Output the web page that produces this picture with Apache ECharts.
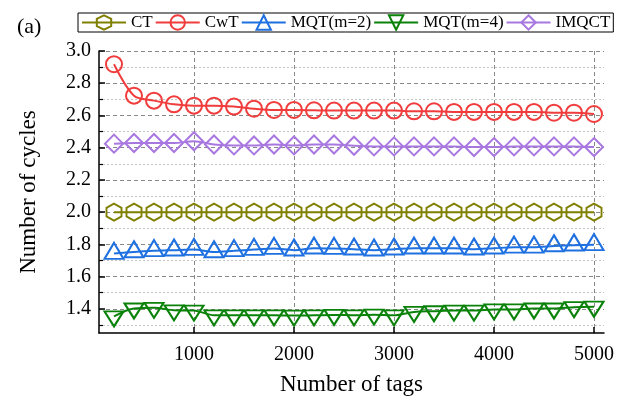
<!DOCTYPE html>
<html>
<head>
<meta charset="utf-8">
<script src="https://cdn.jsdelivr.net/npm/echarts@6/dist/echarts.min.js"></script>
<style>
    html, body { margin: 0; padding: 0; background: #fff; }
    #main { width: 617px; height: 401px; }
</style>
</head>
<body>
<div id="main"></div>
<script>
// 标签数 (x)
var tagCounts = [200, 400, 600, 800, 1000, 1200, 1400, 1600, 1800, 2000, 2200, 2400, 2600,
    2800, 3000, 3200, 3400, 3600, 3800, 4000, 4200, 4400, 4600, 4800, 5000];
var ctCycles = [2.0, 2.0, 2.0, 2.0, 2.0, 2.0, 2.0, 2.0, 2.0, 2.0, 2.0, 2.0, 2.0,
    2.0, 2.0, 2.0, 2.0, 2.0, 2.0, 2.0, 2.0, 2.0, 2.0, 2.0, 2.0];
var cwtCycles = [2.918, 2.723, 2.692, 2.669, 2.661, 2.661, 2.655, 2.642, 2.634, 2.634, 2.632, 2.630, 2.630,
    2.630, 2.630, 2.626, 2.626, 2.622, 2.622, 2.622, 2.622, 2.622, 2.617, 2.617, 2.609];
var mqt2Cycles = [1.743, 1.753, 1.760, 1.764, 1.768, 1.753, 1.760, 1.768, 1.774, 1.764, 1.776, 1.774, 1.770,
    1.764, 1.770, 1.776, 1.776, 1.776, 1.770, 1.776, 1.782, 1.782, 1.790, 1.795, 1.797];
var mqt4Cycles = [1.353, 1.402, 1.406, 1.391, 1.389, 1.360, 1.360, 1.360, 1.360, 1.358, 1.360, 1.362, 1.360,
    1.364, 1.360, 1.381, 1.385, 1.389, 1.389, 1.396, 1.396, 1.402, 1.402, 1.410, 1.413];
var imqctCycles = [2.425, 2.429, 2.429, 2.429, 2.440, 2.420, 2.414, 2.414, 2.420, 2.414, 2.420, 2.420, 2.412,
    2.408, 2.408, 2.408, 2.408, 2.408, 2.404, 2.404, 2.408, 2.408, 2.408, 2.408, 2.404];

// 刻度
var xTicks = [1000, 2000, 3000, 4000, 5000];
var yMajorTicks = [1.4, 1.6, 1.8, 2.0, 2.2, 2.4, 2.6, 2.8, 3.0];
var yMinorTicks = [1.3, 1.5, 1.7, 1.9, 2.1, 2.3, 2.5, 2.7, 2.9];

var seriesNames = ['CT', 'CwT', 'MQT(m=2)', 'MQT(m=4)', 'IMQCT'];
var seriesColors = ['#808000', '#f03c3c', '#1f70e0', '#0a820a', '#a877e0'];

var fontSerif = 'Liberation Serif';
var hexagon = 'path://M0,-1L0.866,-0.5L0.866,0.5L0,1L-0.866,0.5L-0.866,-0.5Z';

function pairs(ys) {
    var out = [];
    for (var i = 0; i < tagCounts.length; i++) {
        out.push([tagCounts[i], ys[i]]);
    }
    return out;
}

function makeSeries(idx, ys, symbol, size, rotate, offset) {
    var c = seriesColors[idx];
    return {
        name: seriesNames[idx],
        type: 'line',
        data: pairs(ys),
        smooth: 0.3,
        symbol: symbol,
        symbolSize: size,
        symbolRotate: rotate,
        symbolOffset: offset,
        showAllSymbol: true,
        lineStyle: { color: c, width: 2 },
        itemStyle: { color: 'rgba(0,0,0,0)', borderColor: c, borderWidth: 2 },
        emphasis: { disabled: true }
    };
}

var myChart = echarts.init(document.getElementById('main'));
var option = {
    animation: false,
    title: {
        text: '(a)',
        left: 12,
        top: 11,
        textStyle: { fontFamily: fontSerif, fontSize: 22, fontWeight: 'normal', color: '#000' }
    },
    legend: {
        left: 78,
        top: 13,
        padding: [1, 3],
        itemGap: 2,
        itemWidth: 44,
        itemHeight: 18,
        borderColor: '#000',
        borderWidth: 1,
        textStyle: { fontFamily: fontSerif, fontSize: 17, color: '#000' },
        data: seriesNames
    },
    grid: { left: 99, right: 9, top: 51, bottom: 68 },
    xAxis: {
        type: 'value',
        min: 50,
        max: 5100,
        name: 'Number of tags',
        nameLocation: 'middle',
        nameGap: 40,
        nameTextStyle: { fontFamily: fontSerif, fontSize: 23, color: '#000' },
        axisLine: { show: true, lineStyle: { color: '#000', width: 1.5 } },
        axisTick: { show: true, inside: true, length: 6, customValues: xTicks, lineStyle: { color: '#000', width: 1.5 } },
        axisLabel: {
            customValues: xTicks, margin: 12, fontFamily: fontSerif, fontSize: 20, color: '#000',
            formatter: function (v) { return String(v); }
        },
        splitLine: { show: true, lineStyle: { color: '#888', type: [4, 3], width: 1 } }
    },
    yAxis: [
        {
            type: 'value',
            min: 1.25,
            max: 3.0,
            name: 'Number of cycles',
            nameLocation: 'middle',
            nameGap: 59,
            nameTextStyle: { fontFamily: fontSerif, fontSize: 23, color: '#000' },
            axisLine: { show: true, lineStyle: { color: '#000', width: 1.5 } },
            axisTick: { show: true, inside: true, length: 6, customValues: yMajorTicks, lineStyle: { color: '#000', width: 1.5 } },
            axisLabel: {
                customValues: yMajorTicks, margin: 8, fontFamily: fontSerif, fontSize: 20, color: '#000',
                formatter: function (v) { return v.toFixed(1); }
            },
            splitLine: { show: true, lineStyle: { color: '#888', type: [4, 3], width: 1 } }
        },
        {
            // 次刻度 + 点线网格
            type: 'value',
            min: 1.25,
            max: 3.0,
            position: 'left',
            axisLine: { show: false },
            axisTick: { show: true, inside: true, length: 4, customValues: yMinorTicks, lineStyle: { color: '#000', width: 1.2 } },
            axisLabel: { show: false },
            splitLine: { show: true, lineStyle: { color: '#c4c4c4', type: [2, 2], width: 1 } }
        }
    ],
    series: [
        makeSeries(0, ctCycles, hexagon, [15, 17], 0, [0, 0]),
        makeSeries(1, cwtCycles, 'circle', 16, 0, [0, 0]),
        makeSeries(2, mqt2Cycles, 'triangle', [19, 16], 0, [0, -2.7]),
        makeSeries(3, mqt4Cycles, 'triangle', [19, 15], 180, [0, 2.5]),
        makeSeries(4, imqctCycles, 'diamond', [18, 18], 0, [0, 0])
    ]
};
myChart.setOption(option);
</script>
</body>
</html>
